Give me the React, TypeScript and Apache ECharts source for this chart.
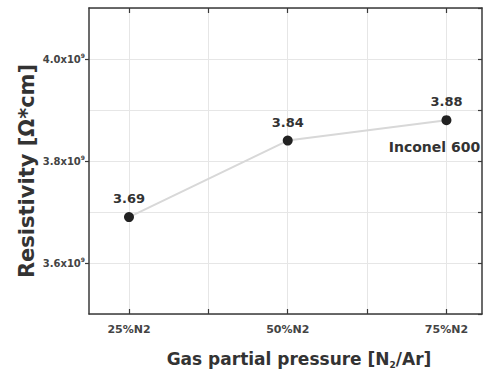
import React, { useEffect, useRef } from "react";
import * as echarts from "echarts";

const xCategories = ["25%N2", "50%N2", "75%N2"];
const xPositions = [25, 50, 75];
const xMinorTicks = [25, 37.5, 50, 62.5, 75];
const resistivity = [3.69, 3.84, 3.88];
const valueLabels = ["3.69", "3.84", "3.88"];
const yTickValues = [3.6, 3.8, 4.0];
const yExponent = "9";
const annotationText = "Inconel 600";

const FONT = "'DejaVu Sans', 'Liberation Sans', Arial, sans-serif";

export default function App() {
  const ref = useRef<HTMLDivElement>(null);
  useEffect(() => {
    if (!ref.current) return;
    const chart = echarts.init(ref.current, undefined, { renderer: "svg" });
    const axisLine = { show: true, lineStyle: { color: "#3a3a3a", width: 1.5 } };
    const split = { show: true, lineStyle: { color: "#e6e6e6", width: 1 } };
    const xMin = 18.7;
    const xMax = 80.6;
    chart.setOption({
      animation: false,
      backgroundColor: "#ffffff",
      textStyle: { fontFamily: FONT },
      grid: { left: 89, top: 8, right: 2, bottom: 57 },
      xAxis: [
        {
          type: "value",
          position: "bottom",
          min: xMin,
          max: xMax,
          axisLine,
          axisTick: { show: true, inside: true, length: 5, customValues: xMinorTicks, lineStyle: { color: "#3a3a3a", width: 1.2 } },
          axisLabel: {
            customValues: xPositions,
            formatter: (v: number) => {
              const i = xPositions.indexOf(v);
              return i >= 0 ? xCategories[i] : "";
            },
            color: "#444",
            fontWeight: "bold",
            fontSize: 11,
            fontFamily: FONT,
            margin: 10,
          },
          splitLine: split,
        },
        {
          type: "value",
          position: "top",
          min: xMin,
          max: xMax,
          axisLine,
          axisTick: { show: true, inside: true, length: 5, customValues: xMinorTicks, lineStyle: { color: "#3a3a3a", width: 1.2 } },
          axisLabel: { show: false },
          splitLine: { show: false },
        },
      ],
      yAxis: [
        {
          type: "value",
          position: "left",
          min: 3.5,
          max: 4.1,
          interval: 0.1,
          axisLine,
          axisTick: { show: true, inside: false, length: 4, customValues: yTickValues, lineStyle: { color: "#3a3a3a", width: 1.2 } },
          axisLabel: {
            customValues: yTickValues,
            formatter: (v: number) => `{b|${v.toFixed(1)}x10}{s|${yExponent}}`,
            margin: 4,
            rich: {
              b: { fontSize: 10, fontWeight: "bold", color: "#444", fontFamily: FONT, lineHeight: 14 },
              s: { fontSize: 6, fontWeight: "bold", color: "#444", fontFamily: FONT, verticalAlign: "top", lineHeight: 14, padding: [0, 0, 6, 0] },
            },
          },
          splitLine: { show: false },
        },
        {
          type: "value",
          position: "right",
          min: 3.5,
          max: 4.1,
          interval: 0.1,
          axisLine,
          axisTick: { show: true, inside: true, length: 4, lineStyle: { color: "#3a3a3a", width: 1.2 } },
          axisLabel: { show: false },
          splitLine: split,
        },
      ],
      series: [
        {
          type: "line",
          data: xPositions.map((x, i) => [x, resistivity[i]]),
          xAxisIndex: 0,
          yAxisIndex: 0,
          symbol: "circle",
          symbolSize: 10,
          itemStyle: { color: "#222" },
          lineStyle: { color: "#d8d8d8", width: 2 },
          label: {
            show: true,
            position: "top",
            distance: 7,
            formatter: (p: any) => valueLabels[p.dataIndex],
            fontSize: 13,
            fontWeight: "bold",
            color: "#333",
            fontFamily: FONT,
          },
          markPoint: {
            symbol: "circle",
            symbolSize: 0,
            data: [
              {
                coord: [xPositions[2], resistivity[2]],
                label: {
                  show: true,
                  formatter: annotationText,
                  offset: [-12, 27],
                  fontSize: 14,
                  fontWeight: "bold",
                  color: "#333",
                  fontFamily: FONT,
                },
              },
            ],
          },
        },
      ],
      graphic: [
        {
          type: "text",
          x: 27,
          y: 171,
          rotation: Math.PI / 2,
          style: {
            text: "Resistivity [Ω*cm]",
            fontSize: 21,
            fontWeight: "bold",
            fill: "#333",
            fontFamily: FONT,
            align: "center",
            verticalAlign: "middle",
          },
        },
        {
          type: "text",
          x: 299,
          y: 359,
          style: {
            text: "{a|Gas partial pressure [N}{u|2}{a|/Ar]}",
            align: "center",
            verticalAlign: "middle",
            rich: {
              a: { fontSize: 17, fontWeight: "bold", fill: "#333", fontFamily: FONT, lineHeight: 20 },
              u: { fontSize: 9, fontWeight: "bold", fill: "#333", fontFamily: FONT, verticalAlign: "bottom", lineHeight: 20, padding: [6, 0, 0, 0] },
            },
          },
        },
      ],
    });
    return () => chart.dispose();
  }, []);
  return <div ref={ref} style={{ width: 484, height: 371, position: "absolute", left: 0, top: 0 }} />;
}
